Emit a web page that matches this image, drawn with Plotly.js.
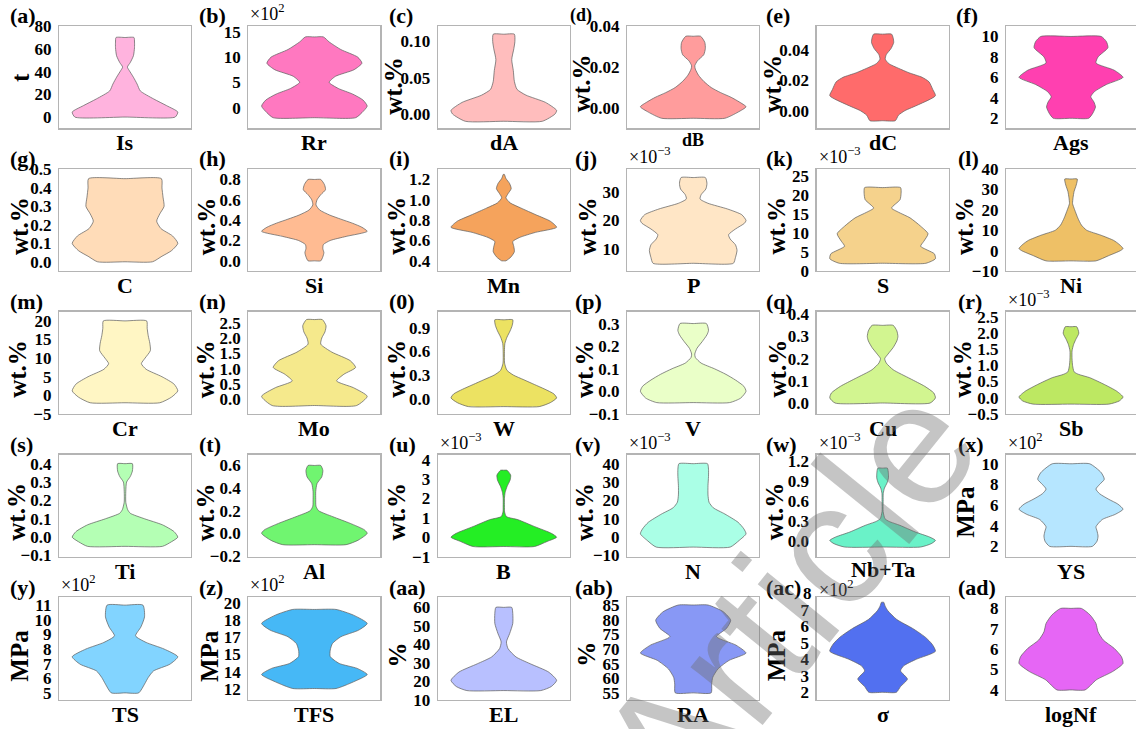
<!DOCTYPE html>
<html>
<head>
<meta charset="utf-8">
<script src="https://cdn.plot.ly/plotly-3.0.1.min.js"></script>
<style>html,body{margin:0;padding:0;background:#fff;}#chart{width:1136px;height:729px;}</style>
</head>
<body>
<div id="chart"></div>
<script>
// ---------- categories / labels ----------
const labels = ['Is','Rr','dA','dB','dC','Ags','C','Si','Mn','P','S','Ni','Cr','Mo','W','V','Cu','Sb','Ti','Al','B','N','Nb+Ta','YS','TS','TFS','EL','RA','σ','logNf'];
const tags = ['(a)','(b)','(c)','(d)','(e)','(f)','(g)','(h)','(i)','(j)','(k)','(l)','(m)','(n)','(0)','(p)','(q)','(r)','(s)','(t)','(u)','(v)','(w)','(x)','(y)','(z)','(aa)','(ab)','(ac)','(ad)'];
const yTitles = ['t','','wt.%','wt.%','wt.%','','wt.%','wt.%','wt.%','wt.%','wt.%','wt.%','wt.%','wt.%','wt.%','wt.%','wt.%','wt.%','wt.%','wt.%','wt.%','wt.%','wt.%','MPa','MPa','MPa','%','%','MPa',''];
const multipliers = ['','×10<sup>2</sup>','','','','','','','','×10<sup>−3</sup>','×10<sup>−3</sup>','','','','','','','×10<sup>−3</sup>','','','×10<sup>−3</sup>','×10<sup>−3</sup>','×10<sup>−3</sup>','×10<sup>2</sup>','×10<sup>2</sup>','×10<sup>2</sup>','','','×10<sup>2</sup>',''];
const watermark = 'Article';

// ---------- violin profiles: value levels and relative density (max = 1) ----------
const Is_y = [0, 4.4, 10, 16, 23, 29, 35, 41, 44, 48, 54, 61, 66, 70];
const Is_d = [0.95, 1, 0.79, 0.54, 0.29, 0.23, 0.16, 0.08, 0.045, 0.1, 0.16, 0.18, 0.18, 0.17];
const Rr_y = [-2, -1, 0.3, 1.5, 2.7, 3.8, 5, 6.2, 7.5, 8.8, 10, 11.5, 13, 14];
const Rr_d = [0.78, 0.9, 1.0, 0.92, 0.72, 0.45, 0.28, 0.4, 0.75, 0.9, 0.82, 0.5, 0.28, 0.17];
const dA_y = [-0.01, 0.0, 0.005, 0.016, 0.026, 0.034, 0.045, 0.06, 0.075, 0.09, 0.1, 0.11];
const dA_d = [0.73, 0.97, 1.0, 0.79, 0.42, 0.25, 0.2, 0.18, 0.15, 0.19, 0.21, 0.2];
const dB_y = [-0.005, -0.002, 0.0006, 0.003, 0.0052, 0.0075, 0.010, 0.013, 0.016, 0.019, 0.0206, 0.023, 0.026, 0.029, 0.032, 0.035];
const dB_d = [0.6, 0.85, 1.0, 0.87, 0.72, 0.52, 0.34, 0.2, 0.1, 0.04, 0.03, 0.08, 0.2, 0.23, 0.22, 0.14];
const dC_y = [-0.0066, -0.003, 0.0, 0.004, 0.0099, 0.014, 0.019, 0.022, 0.025, 0.028, 0.031, 0.034, 0.037, 0.041, 0.045, 0.048, 0.0505];
const dC_d = [0.24, 0.3, 0.42, 0.68, 1.0, 0.95, 0.88, 0.75, 0.5, 0.3, 0.12, 0.05, 0.07, 0.16, 0.21, 0.2, 0.17];
const Ags_y = [2, 2.5, 3.1, 3.6, 4.1, 4.6, 5.3, 6, 6.7, 7.4, 8, 8.9, 9.5, 10];
const Ags_d = [0.34, 0.42, 0.47, 0.44, 0.38, 0.45, 0.68, 1.0, 0.83, 0.48, 0.52, 0.71, 0.68, 0.58];
const C_y = [0, 0.03, 0.06, 0.1, 0.14, 0.18, 0.22, 0.26, 0.3, 0.35, 0.4, 0.45];
const C_d = [0.52, 0.7, 0.88, 1.0, 0.9, 0.68, 0.6, 0.66, 0.74, 0.72, 0.7, 0.69];
const Si_y = [0, 0.04, 0.08, 0.12, 0.16, 0.2, 0.24, 0.29, 0.33, 0.37, 0.41, 0.45, 0.5, 0.55, 0.6, 0.65, 0.7, 0.75, 0.8];
const Si_d = [0.12, 0.16, 0.18, 0.16, 0.17, 0.3, 0.6, 1.0, 0.9, 0.72, 0.5, 0.29, 0.1, 0.03, 0.05, 0.12, 0.21, 0.19, 0.12];
const Mn_y = [0.4, 0.44, 0.49, 0.54, 0.59, 0.63, 0.68, 0.73, 0.79, 0.85, 0.92, 0.97, 1.02, 1.06, 1.11, 1.16, 1.21, 1.25];
const Mn_d = [0.04, 0.14, 0.2, 0.19, 0.17, 0.3, 0.6, 1.0, 0.88, 0.62, 0.32, 0.12, 0.04, 0.08, 0.14, 0.11, 0.04, 0.01];
const P_y = [5, 7, 9.5, 11.5, 13.5, 15, 17, 19, 20, 22, 24, 26, 27.5, 29, 31, 33, 35];
const P_d = [0.76, 0.8, 0.83, 0.8, 0.7, 0.67, 0.8, 0.97, 1.0, 0.92, 0.65, 0.28, 0.13, 0.15, 0.24, 0.26, 0.23];
const S_y = [2, 3.2, 4.5, 6.5, 7.8, 9.8, 11.8, 14, 15.5, 16.6, 18.8, 20.5, 22];
const S_d = [0.82, 1.0, 0.98, 0.72, 0.78, 0.86, 0.72, 0.52, 0.3, 0.17, 0.33, 0.35, 0.34];
const Ni_y = [-5, -2.5, 0, 1, 3, 5, 7.5, 10, 12.5, 16, 20, 23, 26, 29, 32, 35];
const Ni_d = [0.48, 0.72, 0.95, 1.0, 0.93, 0.82, 0.58, 0.3, 0.2, 0.13, 0.07, 0.03, 0.04, 0.06, 0.1, 0.12];
const Cr_y = [-2, -0.5, 1.2, 3, 5, 7, 8.5, 10, 12, 14, 16, 18, 20];
const Cr_d = [0.66, 0.88, 1.0, 0.93, 0.7, 0.4, 0.31, 0.38, 0.48, 0.47, 0.44, 0.42, 0.41];
const Mo_y = [-0.2, 0.1, 0.38, 0.6, 0.82, 1.04, 1.26, 1.54, 1.8, 2.0, 2.2, 2.4, 2.6];
const Mo_d = [0.8, 1.0, 0.74, 0.42, 0.56, 0.78, 0.68, 0.33, 0.12, 0.14, 0.2, 0.22, 0.15];
const W_y = [-0.1, -0.05, 0.01, 0.06, 0.12, 0.18, 0.24, 0.3, 0.36, 0.45, 0.6, 0.7, 0.78, 0.86, 0.93, 1.0];
const W_d = [0.67, 0.88, 1.0, 0.95, 0.78, 0.58, 0.38, 0.18, 0.06, 0.015, 0.012, 0.02, 0.06, 0.12, 0.16, 0.17];
const V_y = [-0.05, -0.03, 0.0, 0.022, 0.05, 0.075, 0.1, 0.125, 0.15, 0.165, 0.19, 0.22, 0.25, 0.27, 0.3];
const V_d = [0.69, 0.9, 1.0, 0.96, 0.8, 0.62, 0.4, 0.15, 0.04, 0.03, 0.07, 0.17, 0.26, 0.29, 0.25];
const Cu_y = [0, 0.023, 0.045, 0.075, 0.11, 0.15, 0.18, 0.2, 0.22, 0.25, 0.28, 0.3, 0.325, 0.35];
const Cu_d = [0.9, 1.0, 0.97, 0.8, 0.52, 0.2, 0.07, 0.04, 0.1, 0.2, 0.27, 0.29, 0.27, 0.2];
const Sb_y = [-0.2, -0.1, 0.02, 0.2, 0.41, 0.62, 0.72, 0.8, 1.0, 1.2, 1.45, 1.65, 1.8, 2.0, 2.2];
const Sb_d = [0.73, 0.93, 1.0, 0.88, 0.64, 0.36, 0.15, 0.06, 0.03, 0.02, 0.02, 0.05, 0.09, 0.15, 0.11];
const Ti_y = [-0.05, -0.025, 0, 0.03, 0.067, 0.1, 0.13, 0.15, 0.19, 0.25, 0.3, 0.33, 0.36, 0.4];
const Ti_d = [0.71, 0.88, 1.0, 0.93, 0.71, 0.37, 0.1, 0.05, 0.015, 0.015, 0.03, 0.1, 0.14, 0.14];
const Al_y = [-0.1, -0.06, 0, 0.03, 0.088, 0.147, 0.2, 0.24, 0.3, 0.37, 0.44, 0.5, 0.556, 0.6];
const Al_d = [0.6, 0.83, 1.0, 0.95, 0.68, 0.35, 0.08, 0.03, 0.025, 0.025, 0.05, 0.14, 0.16, 0.12];
const B_y = [-0.48, -0.22, 0, 0.2, 0.55, 0.9, 1.06, 1.3, 1.6, 2.0, 2.3, 2.6, 2.95, 3.2, 3.45];
const B_d = [0.58, 0.82, 1.0, 0.9, 0.58, 0.27, 0.05, 0.015, 0.012, 0.012, 0.025, 0.06, 0.12, 0.13, 0.06];
const N_y = [-5.4, -1.8, 1.8, 4.5, 8.1, 12.6, 16, 19, 23, 28, 33, 37, 40];
const N_d = [0.7, 0.87, 1.0, 0.96, 0.85, 0.6, 0.38, 0.3, 0.28, 0.28, 0.29, 0.29, 0.27];
const NbTa_y = [-0.085, -0.035, 0.015, 0.065, 0.14, 0.24, 0.3, 0.34, 0.45, 0.6, 0.72, 0.8, 0.88, 0.95, 1.02, 1.1];
const NbTa_d = [0.72, 0.92, 1.0, 0.89, 0.62, 0.33, 0.12, 0.045, 0.01, 0.01, 0.012, 0.035, 0.085, 0.11, 0.11, 0.09];
const YS_y = [2, 2.5, 3.0, 3.5, 3.9, 4.6, 5.1, 5.6, 6.1, 6.55, 7.1, 7.55, 8.0, 8.5, 9.15, 10];
const YS_d = [0.41, 0.5, 0.52, 0.5, 0.48, 0.6, 0.85, 1.0, 0.9, 0.73, 0.55, 0.48, 0.55, 0.64, 0.58, 0.36];
const TS_y = [5, 5.6, 6.05, 6.5, 6.96, 7.47, 8.0, 8.45, 8.9, 9.5, 10.2, 11];
const TS_d = [0.26, 0.37, 0.44, 0.54, 0.85, 1.0, 0.74, 0.4, 0.2, 0.3, 0.37, 0.34];
const TFS_y = [12.03, 12.65, 13.33, 13.9, 14.36, 15.0, 15.6, 16.2, 16.84, 17.46, 18.08, 18.85, 19.38];
const TFS_d = [0.41, 0.74, 1.0, 0.81, 0.47, 0.3, 0.3, 0.34, 0.5, 0.84, 1.0, 0.74, 0.41];
const EL_y = [15, 17.2, 20.5, 25, 29.5, 33.2, 37.7, 41.3, 45.8, 51.3, 56.7, 60];
const EL_d = [0.7, 0.9, 1.0, 0.85, 0.5, 0.23, 0.08, 0.05, 0.11, 0.17, 0.17, 0.15];
const RA_y = [55, 58, 60.3, 63.2, 66.1, 68.6, 71.3, 74.2, 77, 79.8, 82.7, 85];
const RA_d = [0.34, 0.35, 0.37, 0.47, 0.68, 1.0, 0.81, 0.44, 0.63, 0.71, 0.57, 0.28];
const sigma_y = [2, 2.35, 2.8, 3.3, 3.6, 4.0, 4.48, 4.9, 5.33, 5.86, 6.4, 6.93, 7.2, 7.45];
const sigma_d = [0.26, 0.34, 0.47, 0.34, 0.4, 0.64, 1.0, 0.94, 0.81, 0.57, 0.27, 0.1, 0.05, 0.02];
const logNf_y = [4, 4.5, 4.9, 5.3, 5.63, 6.04, 6.45, 6.85, 7.26, 7.67, 8];
const logNf_d = [0.27, 0.49, 0.8, 1.0, 0.97, 0.83, 0.62, 0.52, 0.48, 0.37, 0.2];

// ---------- tick values ----------
const tickVals = [
  [0,20,40,60,80],[0,5,10,15],[0,0.05,0.1],[0,0.02,0.04],[0,0.02,0.04],[2,4,6,8,10],
  [0,0.1,0.2,0.3,0.4,0.5],[0,0.2,0.4,0.6,0.8],[0.4,0.6,0.8,1.0,1.2],[10,20,30],[0,5,10,15,20,25],[-10,0,10,20,30,40],
  [-5,0,5,10,15,20],[-0.5,0,0.5,1,1.5,2,2.5],[0,0.3,0.6,0.9],[-0.1,0,0.1,0.2,0.3],[0,0.1,0.2,0.3,0.4],[-0.5,0,0.5,1,1.5,2,2.5],
  [-0.1,0,0.1,0.2,0.3,0.4],[-0.2,0,0.2,0.4,0.6],[-1,0,1,2,3,4],[-10,0,10,20,30,40],[0,0.3,0.6,0.9,1.2],[2,4,6,8,10],
  [5,6,7,8,9,10,11],[12,13.6,15.2,16.8,18.4,20],[10,20,30,40,50,60],[55,60,65,70,75,80,85],[2,3,4,5,6,7],[4,5,6,7,8]
];
const tickDecimals = [0,0,2,2,2,0, 1,1,1,0,0,0, 0,1,1,1,1,1, 1,1,0,0,1,0, 0,0,0,0,0,0];
const tfsTickText = ['12','14','15','17','18','20'];
const sigmaTopTick = 8;

// ---------- styles ----------
const fillColors = ['#ffb3de','#ff78c0','#ffbdbd','#ff9c9c','#ff6b6b','#ff40b0',
  '#ffdcb8','#ffbb92','#f5a35c','#ffe6c6','#f5d28c','#eec066',
  '#fff6c4','#f5e98c','#ece262','#eaffc8','#d2f590','#bde862',
  '#b4ffb4','#70f570','#24ee24','#aaffe6','#6af2c8','#b6e6ff',
  '#82d4ff','#46b8f6','#b8c0ff','#8898f5','#5270f0','#e666f5'];
const yRanges = [[-9.9,80.3],[-4.1,16.2],[-0.0197,0.1216],[-0.0099,0.0401],[-0.0116,0.056],[1.02,11.04],
  [-0.051,0.504],[-0.102,0.906],[0.298,1.306],[2.24,38.1],[-0.1,27],[-10.05,40.05],
  [-5.05,22.5],[-0.48,2.86],[-0.195,1.104],[-0.101,0.353],[-0.05,0.412],[-0.51,2.67],
  [-0.108,0.45],[-0.209,0.697],[-1.02,4.26],[-10.8,45],[-0.235,1.305],[0.97,10.9],
  [4.52,11.53],[10.97,20.5],[9.95,65.4],[52.6,87.6],[1.54,7.74],[3.51,8.54]];

const profY = [Is_y,Rr_y,dA_y,dB_y,dC_y,Ags_y,C_y,Si_y,Mn_y,P_y,S_y,Ni_y,Cr_y,Mo_y,W_y,V_y,Cu_y,Sb_y,Ti_y,Al_y,B_y,N_y,NbTa_y,YS_y,TS_y,TFS_y,EL_y,RA_y,sigma_y,logNf_y];
const profD = [Is_d,Rr_d,dA_d,dB_d,dC_d,Ags_d,C_d,Si_d,Mn_d,P_d,S_d,Ni_d,Cr_d,Mo_d,W_d,V_d,Cu_d,Sb_d,Ti_d,Al_d,B_d,N_d,NbTa_d,YS_d,TS_d,TFS_d,EL_d,RA_d,sigma_d,logNf_d];

const W = 1136, H = 729;
const BOX_W = 132, BOX_H = 102.5;
const colLeft = c => 59 + c * 189.4;
const rowTop = r => 25.8 + r * 142.9;
const HALF = 0.8;
const FONT = 'Liberation Serif, Times New Roman, Times, serif';
const frameColor = '#b4b4b4';
const edgeColor = 'rgba(95,95,95,0.8)';
const yTitleOffset = [39,0,45,46,45,0, 39,41,41,39,40,41, 41,43,41,42,39,43, 42,43,41,42,42,40, 39,39,40,41,40,0];
const yTitleDrop = [1,0,9,6,7,0, 6,6,6,6,6,6, 6,6,6,6,6,6, 6,6,6,6,6,6, 7,7,6,6,7,0];
const tagOffset = [51,51,51,59,53,52, 51,51,51,54,53,50, 51,51,51,54,53,50, 51,51,51,54,53,50, 51,51,51,54,53,50];
const multShift = [0,0,0,0,0,0, 0,0,0,0,0,0, 0,0,0,0,0,0, 0,0,0,0,0,0, 0,0,0,0,-5,0];
const xLabelShift = [0,0,0,0,0,0, 0,0,0,0,0,0, 0,0,0,0,0,0, 0,0,0,0,2,0, 0,0,0,0,0,0];

const fmt = (v, d) => { const s = v.toFixed(d); return v < 0 ? '\u2212' + s.slice(1) : s; };

const traces = [];
const layout = {
  width: W, height: H, margin: {l:0, r:0, t:0, b:0},
  paper_bgcolor: '#ffffff', plot_bgcolor: '#ffffff', showlegend: false,
  font: {family: FONT, color: '#000'}, annotations: []
};

for (let i = 0; i < 30; i++) {
  const r = Math.floor(i / 6), c = i % 6;
  const id = i === 0 ? '' : String(i + 1);
  const x0 = colLeft(c) / W, x1 = (colLeft(c) + BOX_W) / W;
  const y1 = 1 - rowTop(r) / H, y0 = 1 - (rowTop(r) + BOX_H) / H;
  const ys = profY[i], ds = profD[i];
  const px = [], py = [];
  for (let k = 0; k < ys.length; k++) { px.push(HALF * ds[k]); py.push(ys[k]); }
  px.push(0); py.push(ys[ys.length - 1]);
  for (let k = ys.length - 1; k >= 0; k--) { px.push(-HALF * ds[k]); py.push(ys[k]); }
  px.push(0); py.push(ys[0]);
  px.push(px[0]); py.push(py[0]);
  traces.push({
    type: 'scatter', mode: 'lines', x: px, y: py, xaxis: 'x' + id, yaxis: 'y' + id,
    fill: 'toself', fillcolor: fillColors[i],
    line: {color: edgeColor, width: 0.9, shape: 'spline', smoothing: 0.6},
    hoverinfo: 'skip', showlegend: false, name: labels[i]
  });
  layout['xaxis' + id] = {
    domain: [x0, x1], range: [-1, 1], anchor: 'y' + id,
    showticklabels: false, ticks: '', showgrid: false, zeroline: false,
    showline: true, mirror: true, linecolor: frameColor, linewidth: 1.2, fixedrange: true
  };
  const tv = tickVals[i];
  const tt = (i === 25) ? tfsTickText : tv.map(v => fmt(v, tickDecimals[i]));
  layout['yaxis' + id] = {
    domain: [y0, y1], range: yRanges[i], anchor: 'x' + id,
    tickmode: 'array', tickvals: tv, ticktext: tt, ticks: '', ticklabelstandoff: 3,
    tickfont: {family: FONT, size: 17, color: '#000', weight: 'bold'},
    showgrid: false, zeroline: false, showline: true, mirror: true,
    linecolor: frameColor, linewidth: 1.2, fixedrange: true
  };
  const xd = 'x' + id + ' domain', yd = 'y' + id + ' domain';
  layout.annotations.push({text: labels[i], xref: xd, yref: yd, x: 0.5, y: 0, xanchor: 'center', yanchor: 'top', yshift: xLabelShift[i],
    showarrow: false, font: {family: FONT, size: i === 3 ? 18 : 22, color: '#000', weight: 'bold'}});
  layout.annotations.push({text: tags[i], xref: xd, yref: yd, x: 0, y: 1, xanchor: 'left', yanchor: 'middle', xshift: -tagOffset[i], yshift: 10,
    showarrow: false, font: {family: FONT, size: i === 3 ? 18 : 22, color: '#000', weight: 'bold'}});
  if (yTitles[i]) {
    layout.annotations.push({text: yTitles[i], xref: xd, yref: yd, x: 0, y: 0.5, xanchor: 'center', yanchor: 'middle',
      xshift: -yTitleOffset[i], yshift: -yTitleDrop[i],
      textangle: -90, showarrow: false, font: {family: FONT, size: 25, color: '#000', weight: 'bold'}});
  }
  if (multipliers[i]) {
    layout.annotations.push({text: multipliers[i], xref: xd, yref: yd, x: 0, y: 1, xanchor: 'left', yanchor: 'bottom', yshift: multShift[i],
      showarrow: false, font: {family: FONT, size: 18, color: '#000'}});
  }
}
// top tick of the sigma panel sits just above its frame
const sr = yRanges[28];
layout.annotations.push({text: String(sigmaTopTick), xref: 'x29 domain', yref: 'y29 domain', x: 0, y: (sigmaTopTick - sr[0]) / (sr[1] - sr[0]),
  xanchor: 'right', yanchor: 'middle', xshift: -3,
  showarrow: false, font: {family: FONT, size: 17, color: '#000', weight: 'bold'}});
// publisher watermark across the lower right
layout.annotations.push({text: watermark, xref: 'paper', yref: 'paper', x: 787 / W, y: 1 - 598 / H, xanchor: 'center', yanchor: 'middle',
  textangle: -51, showarrow: false, font: {family: 'Liberation Sans, Arial, sans-serif', size: 175, color: 'rgba(110,110,110,0.40)'}});

Plotly.newPlot('chart', traces, layout, {staticPlot: true, displayModeBar: false});
</script>
</body>
</html>
